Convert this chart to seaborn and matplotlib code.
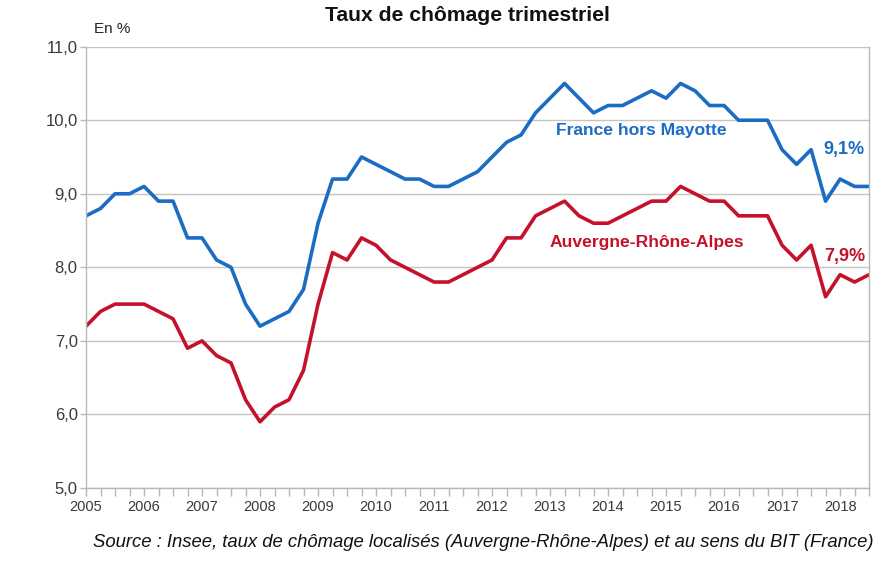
import matplotlib
matplotlib.use('Agg')
import matplotlib.pyplot as plt
import seaborn as sns
import pandas as pd
from matplotlib.ticker import MultipleLocator, FuncFormatter

# Trimestres 2005T1 -> 2018T3
trimestres = pd.period_range('2005Q1', '2018Q3', freq='Q')

france = [8.7, 8.8, 9.0, 9.0, 9.1, 8.9, 8.9, 8.4, 8.4, 8.1,
          8.0, 7.5, 7.2, 7.3, 7.4, 7.7, 8.6, 9.2, 9.2, 9.5,
          9.4, 9.3, 9.2, 9.2, 9.1, 9.1, 9.2, 9.3, 9.5, 9.7,
          9.8, 10.1, 10.3, 10.5, 10.3, 10.1, 10.2, 10.2, 10.3, 10.4,
          10.3, 10.5, 10.4, 10.2, 10.2, 10.0, 10.0, 10.0, 9.6, 9.4,
          9.6, 8.9, 9.2, 9.1, 9.1]

auvergne = [7.2, 7.4, 7.5, 7.5, 7.5, 7.4, 7.3, 6.9, 7.0, 6.8,
            6.7, 6.2, 5.9, 6.1, 6.2, 6.6, 7.5, 8.2, 8.1, 8.4,
            8.3, 8.1, 8.0, 7.9, 7.8, 7.8, 7.9, 8.0, 8.1, 8.4,
            8.4, 8.7, 8.8, 8.9, 8.7, 8.6, 8.6, 8.7, 8.8, 8.9,
            8.9, 9.1, 9.0, 8.9, 8.9, 8.7, 8.7, 8.7, 8.3, 8.1,
            8.3, 7.6, 7.9, 7.8, 7.9]

years = list(range(2005, 2019))
blue = '#1c6cc4'
red = '#c4122c'

t = [p.year + (p.quarter - 1) / 4 for p in trimestres]
df = pd.DataFrame({
    't': t * 2,
    'taux': france + auvergne,
    'zone': ['France hors Mayotte'] * len(t) + ['Auvergne-Rhône-Alpes'] * len(t),
})

sns.set_style('white')
plt.rcParams['font.family'] = ['Liberation Sans', 'DejaVu Sans']

fig = plt.figure(figsize=(8.85, 5.72), dpi=100)
ax = fig.add_axes([0.0972, 0.1469, 0.8848, 0.7715])

sns.lineplot(data=df, x='t', y='taux', hue='zone',
             palette={'France hors Mayotte': blue, 'Auvergne-Rhône-Alpes': red},
             linewidth=2.6, legend=False, ax=ax)

ax.set_xlim(2005, 2018.5)
ax.set_ylim(5.0, 11.0)
ax.set_xticks(years)
ax.set_xticklabels([str(y) for y in years])
ax.xaxis.set_minor_locator(MultipleLocator(0.25))
ax.yaxis.set_major_locator(MultipleLocator(1.0))
ax.yaxis.set_major_formatter(FuncFormatter(lambda v, p: f'{v:.1f}'.replace('.', ',')))

ax.grid(axis='y', color='#c4c4c4', linewidth=1.0)
ax.set_axisbelow(True)
for s in ['left', 'right', 'bottom']:
    ax.spines[s].set_color('#b8b8b8')
    ax.spines[s].set_linewidth(1.0)
ax.spines['top'].set_visible(False)

ax.tick_params(axis='x', which='both', bottom=True, direction='out', length=6, width=1,
               color='#b8b8b8', labelsize=10.5, labelcolor='#3a3a3a', pad=3)
ax.tick_params(axis='y', which='major', left=True, direction='out', length=4, width=1,
               color='#b8b8b8', labelsize=12, labelcolor='#3a3a3a', pad=2)
ax.set_xlabel('')
ax.set_ylabel('')

fig.text(0.528, 0.973, 'Taux de chômage trimestriel', ha='center', va='center',
         fontsize=15.2, fontweight='bold', color='#111111')
fig.text(0.106, 0.950, 'En %', ha='left', va='center', fontsize=11, color='#222222')

ax.text(2013.1, 9.86, 'France hors Mayotte', ha='left', va='center',
        fontsize=12.6, fontweight='bold', color=blue)
ax.text(2013.0, 8.34, 'Auvergne-Rhône-Alpes', ha='left', va='center',
        fontsize=12.6, fontweight='bold', color=red)
ax.text(2017.72, 9.6, '9,1%', ha='left', va='center',
        fontsize=13, fontweight='bold', color=blue)
ax.text(2017.72, 8.15, '7,9%', ha='left', va='center',
        fontsize=13, fontweight='bold', color=red)

fig.text(0.5455, 0.051, 'Source : Insee, taux de chômage localisés (Auvergne-Rhône-Alpes) et au sens du BIT (France)',
         ha='center', va='center', fontsize=13.3, style='italic', color='#111111')

fig.savefig('out.png', dpi=100)
